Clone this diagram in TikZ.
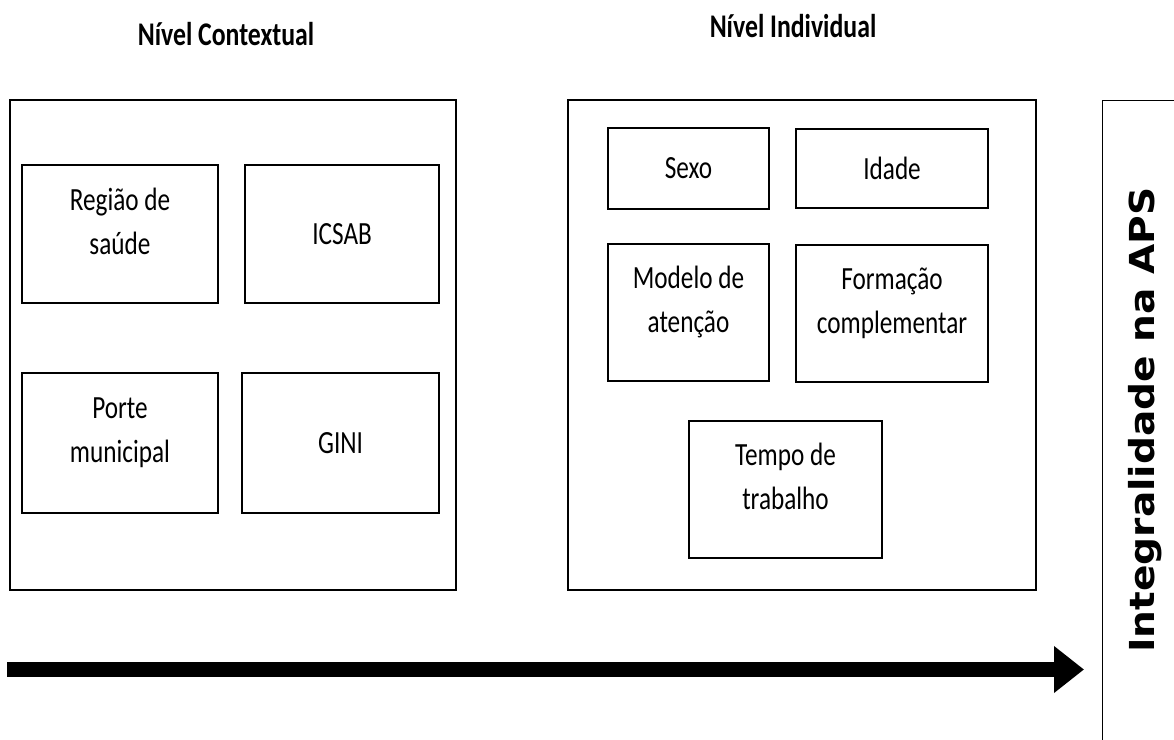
\documentclass[tikz,border=0pt]{standalone}
\usepackage{fontspec}
\usepackage{graphicx}
\setmainfont{Carlito}[FakeStretch=0.78]
\newfontfamily\apsfont{DejaVu Sans}
\usetikzlibrary{arrows.meta}

\begin{document}
\begin{tikzpicture}[x=0.025cm, y=-0.025cm, line width=1pt, every node/.style={align=center, font=\fontsize{23}{31.3}\selectfont}, var/.style={draw, inner sep=0pt, minimum width=4.9cm, minimum height=3.45cm}, level/.style={draw, minimum width=11.15cm, minimum height=12.25cm}, title/.style={anchor=base, font=\fontsize{23.5}{28}\selectfont\bfseries}, twoline/.style={text depth=0.65cm}, post/.style={line width=0.375cm, -{Triangle[length=0.75cm, width=1.125cm]}}]

	\useasboundingbox (0,0) rectangle (1174,740);
	\clip (0,0) rectangle (1174,740);

	\node [title] (TC) at (226,46) {Nível Contextual};
	\node [title] (TI) at (793,38) {Nível Individual};

	\node [level] (ctxbox) at (233,345) {};
	\node [level, minimum width=11.7cm] (indbox) at (802,345) {};

	\node [var, twoline] (regiao) at (120,234) {Região de\\saúde};
	\node [var] (icsab) [right of=regiao, node distance=5.55cm, minimum width=4.85cm] {ICSAB};
	\node [var, twoline] (porte)
		[below of=regiao, node distance=5.225cm, minimum height=3.5cm]
		{Porte\\municipal};
	\node [var] (gini)
		[right of=porte, node distance=5.5125cm, minimum width=4.925cm, minimum height=3.5cm]
		{GINI};

	\node [var, minimum width=4.025cm, minimum height=2.025cm] (sexo) at (688.5,168.5) {Sexo};
	\node [var] (idade)
		[right of=sexo, node distance=5.0875cm, minimum width=4.8cm, minimum height=1.975cm]
		{Idade};
	\node [var, twoline] (modelo)
		[below of=sexo, node distance=3.6cm, minimum width=4.025cm, minimum height=3.425cm]
		{Modelo de\\atenção};
	\node [var, twoline] (formacao)
		[below of=idade, node distance=3.625cm, minimum width=4.8cm, minimum height=3.425cm]
		{Formação\\complementar};
	\node [var, twoline, minimum width=4.825cm, minimum height=3.425cm] (tempo) at (785.5,489.5)
		{Tempo de\\trabalho};

	\node [draw, anchor=north west, minimum width=3cm, minimum height=17cm] (apsbox) at (1102,100) {};
	\node [rotate=90, font=\apsfont\bfseries\fontsize{27.8}{30}\selectfont] (apslabel) at (1145,420)
		{\scalebox{1}[0.88]{Integralidade na APS}};

	\coordinate (tail) at (7,669.5);
	\draw [post, shorten >=0.45cm] (tail) -- (tail -| apsbox.west);

\end{tikzpicture}
\end{document}
